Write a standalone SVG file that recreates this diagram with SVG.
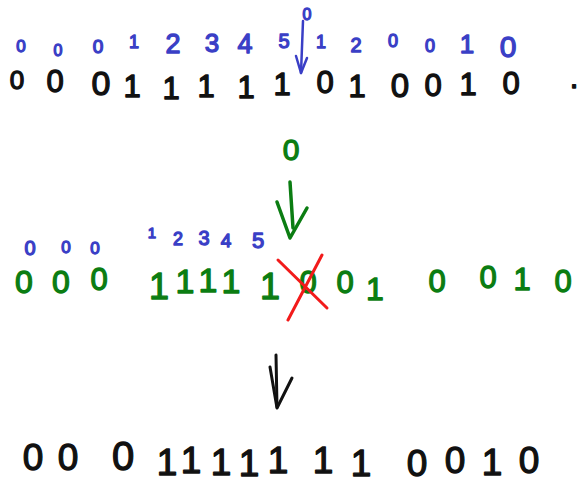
<svg xmlns="http://www.w3.org/2000/svg" width="579" height="485" viewBox="0 0 579 485">
  <style>
    text { font-family: "Liberation Sans", "DejaVu Sans", sans-serif; font-weight: normal; text-anchor: middle; stroke-width: 1.3; stroke-linejoin: round; }
    .blue { fill: #3a3fc6; stroke: #3a3fc6; }
    .green { fill: #0b7d12; stroke: #0b7d12; }
    .black { fill: #111111; stroke: #111111; }
    .arrow { fill: none; stroke-linecap: round; stroke-linejoin: round; }
  </style>
  <rect width="579" height="485" fill="#ffffff"/>

  <!-- first bit string with its counts -->
  <g id="row1-counts" class="blue">
    <text x="21" y="52" font-size="17">0</text>
    <text x="58" y="56" font-size="16">0</text>
    <text x="98" y="53" font-size="19">0</text>
    <text x="134" y="48" font-size="18">1</text>
    <text x="173" y="53" font-size="27">2</text>
    <text x="212" y="52" font-size="26">3</text>
    <text x="245" y="53" font-size="27">4</text>
    <text x="284" y="48" font-size="20">5</text>
    <text x="307" y="20" font-size="16">0</text>
    <text x="321" y="48" font-size="18">1</text>
    <text x="356" y="52" font-size="20">2</text>
    <text x="393" y="47" font-size="18">0</text>
    <text x="430" y="52" font-size="18">0</text>
    <text x="467" y="53" font-size="26">1</text>
    <text x="508" y="57" font-size="30">0</text>
  </g>
  <g id="row1-bits" class="black" font-size="31">
    <text x="17" y="89" font-size="26">0</text>
    <text x="55" y="92">0</text>
    <text x="101" y="95" font-size="34">0</text>
    <text x="132" y="97">1</text>
    <text x="171" y="99">1</text>
    <text x="206" y="97">1</text>
    <text x="246" y="98">1</text>
    <text x="282" y="95">1</text>
    <text x="325" y="93">0</text>
    <text x="357" y="97">1</text>
    <text x="400" y="97" font-size="33">0</text>
    <text x="433" y="96">0</text>
    <text x="468" y="95">1</text>
    <text x="511" y="94">0</text>
    <text x="574" y="88">.</text>
  </g>

  <!-- inserted bit -->
  <g id="insert-bit" class="green">
    <text x="291" y="160" font-size="30">0</text>
  </g>

  <!-- second bit string with its counts -->
  <g id="row2-counts" class="blue">
    <text x="30" y="255" font-size="20">0</text>
    <text x="66" y="253" font-size="17">0</text>
    <text x="95" y="254" font-size="17">0</text>
    <text x="152" y="238" font-size="15">1</text>
    <text x="178" y="245" font-size="18">2</text>
    <text x="204" y="245" font-size="20">3</text>
    <text x="226" y="247" font-size="19">4</text>
    <text x="258" y="248" font-size="22">5</text>
  </g>
  <g id="row2-bits" class="green" font-size="31">
    <text x="24" y="293" font-size="32">0</text>
    <text x="61" y="293" font-size="32">0</text>
    <text x="99" y="290">0</text>
    <text x="159" y="299" font-size="36">1</text>
    <text x="185" y="293" font-size="34">1</text>
    <text x="208" y="292" font-size="34">1</text>
    <text x="231" y="293" font-size="34">1</text>
    <text x="270" y="299" font-size="36">1</text>
    <text x="308" y="293">0</text>
    <text x="345" y="293">0</text>
    <text x="375" y="300" font-size="32">1</text>
    <text x="437" y="292">0</text>
    <text x="488" y="288">0</text>
    <text x="522" y="290">1</text>
    <text x="563" y="292">0</text>
  </g>

  <!-- crossed-out bit -->
  <g id="strike" stroke="#f21b1b" stroke-width="3" stroke-linecap="round">
    <line x1="278" y1="260" x2="327" y2="308"/>
    <line x1="322" y1="255" x2="288" y2="320"/>
  </g>

  <!-- resulting bit string -->
  <g id="row3-bits" class="black" font-size="37">
    <text x="33" y="470">0</text>
    <text x="68" y="470">0</text>
    <text x="123" y="470" font-size="40">0</text>
    <text x="167" y="475">1</text>
    <text x="191" y="473">1</text>
    <text x="221" y="475">1</text>
    <text x="249" y="476">1</text>
    <text x="278" y="473">1</text>
    <text x="323" y="473">1</text>
    <text x="361" y="476">1</text>
    <text x="417" y="476">0</text>
    <text x="455" y="473">0</text>
    <text x="492" y="475">1</text>
    <text x="529" y="473">0</text>
  </g>

  <!-- arrows -->
  <g id="connectors" class="arrow">
    <g stroke="#3a3fc6" stroke-width="2.5">
      <path d="M303 21 L301 73"/>
      <path d="M296 56 L301 73 L307 58"/>
    </g>
    <g stroke="#0b7d12" stroke-width="3.5">
      <path d="M290 182 L293 228"/>
      <path d="M277 202 L290 238 L307 208"/>
    </g>
    <g stroke="#111111" stroke-width="3">
      <path d="M276 355 L277 407"/>
      <path d="M270 367 L277 408 L292 378"/>
    </g>
  </g>
</svg>
